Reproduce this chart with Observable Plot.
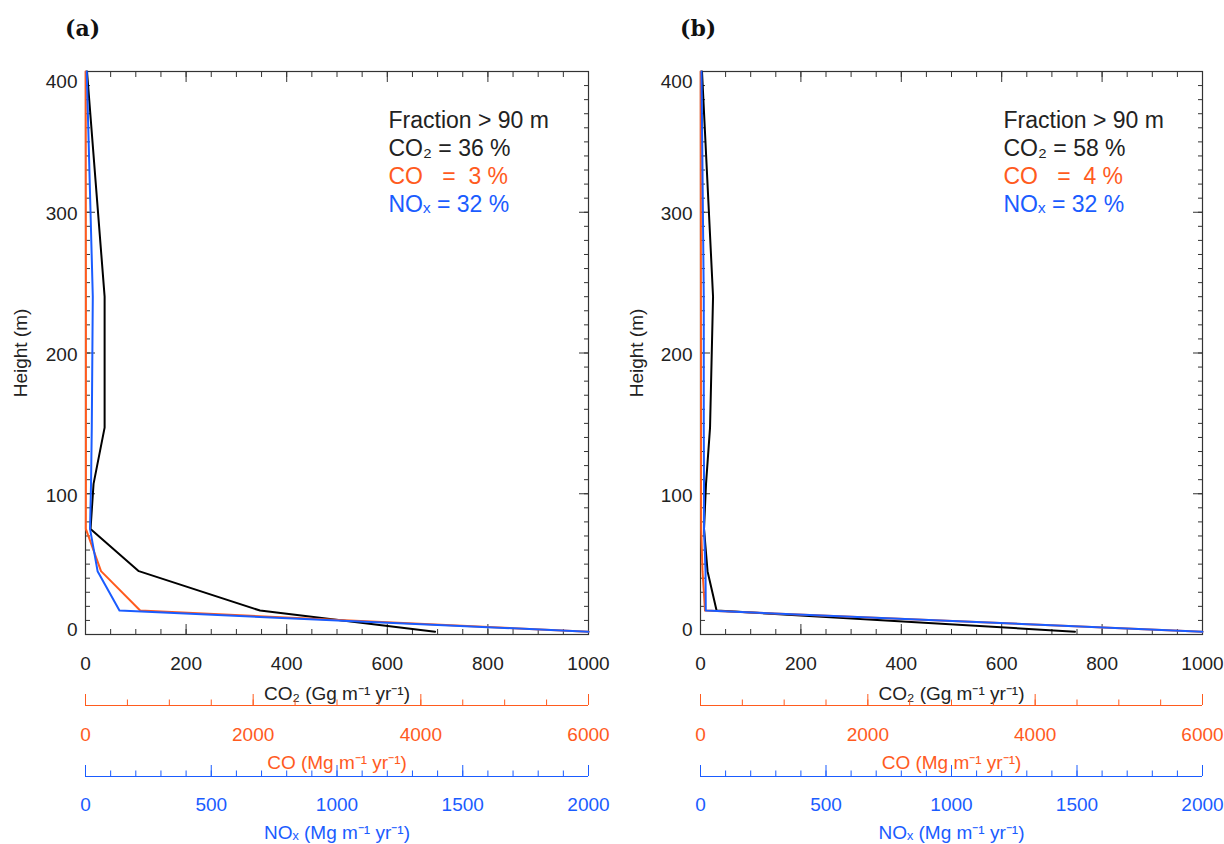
<!DOCTYPE html>
<html><head><meta charset="utf-8">
<script src="https://cdn.jsdelivr.net/npm/d3@7"></script>
<script src="https://cdn.jsdelivr.net/npm/@observablehq/plot@0.6"></script>
<style>
html,body{margin:0;padding:0;background:#fff;}
#page{position:relative;width:1224px;height:844px;overflow:hidden;font-family:"Liberation Sans",Arial,sans-serif;}
.ptitle{position:absolute;top:17px;font-family:"DejaVu Serif",serif;font-weight:bold;font-size:22px;line-height:1;color:#111;}
.panel{position:absolute;top:50px;width:612px;height:794px;}
</style></head><body><div id="page"></div>
<script>
// Heights of profile vertices (m)
const heights = [2, 17, 45, 75, 107, 147, 240, 400];
// Panel (a)
const co2A = [695, 347, 106, 10, 16, 38, 38, 3];        // Gg m-1 yr-1
const coA  = [6000, 652, 185, 4, 5, 5, 5, 2];           // Mg m-1 yr-1
const noxA = [2000, 135, 48, 18, 22, 25, 29, 5];        // Mg m-1 yr-1
// Panel (b)
const co2B = [746, 32, 14, 7, 11, 19, 25, 3];
const coB  = [6000, 54, 24, 8, 6, 6, 5, 2];
const noxB = [2000, 21, 20, 14, 14, 13, 13, 4];
// Annotation values
const fracA = {co2: "36", co: "3", nox: "32"};
const fracB = {co2: "58", co: "4", nox: "32"};
// Axis ranges and ticks
const CO2_MAX = 1000, CO_MAX = 6000, NOX_MAX = 2000, H_MAX = 400;
const co2Ticks = [0, 200, 400, 600, 800, 1000];
const co2Minor = d3.range(0, 1001, 50);
const coTicks = [0, 2000, 4000, 6000];
const coMinor = d3.range(0, 6001, 500);
const noxTicks = [0, 500, 1000, 1500, 2000];
const noxMinor = d3.range(0, 2001, 100);
const hTicksMid = [100, 200, 300];
const hMinor = d3.range(0, 401, 10);

const ORANGE = "#ff5b1e", BLUE = "#1a5cff", INK = "#222", AXC = "#333";
const fmt = d3.format("d");
const coToX = v => v * CO2_MAX / CO_MAX;
const noxToX = v => v * CO2_MAX / NOX_MAX;

function panel(co2, co, nox, frac, ml, mr, ylabDx) {
  const rows = heights.map((h, i) => ({h, co2: co2[i], co: coToX(co[i]), nox: noxToX(nox[i])}));
  const annot = [
    {t: "Fraction > 90 m", c: INK},
    {t: `CO\u2082 = ${frac.co2} %`, c: INK},
    {t: `CO\u00a0\u00a0\u00a0=\u00a0\u00a0${frac.co} %`, c: ORANGE},
    {t: `NO\u2093 = ${frac.nox} %`, c: BLUE}
  ];
  const dOr = 71, dBl = 142;
  const lbl = (txt, dy, fill) => Plot.text([txt], {frameAnchor: "bottom", dy, fill, fontSize: 19, lineAnchor: "middle", textAnchor: "middle"});
  return Plot.plot({
    width: 612, height: 794,
    marginTop: 21, marginBottom: 210, marginLeft: ml, marginRight: mr,
    style: {fontFamily: "'Liberation Sans', Arial, sans-serif", fontSize: "19px", color: INK, background: "white", overflow: "visible"},
    x: {domain: [0, CO2_MAX], label: null},
    y: {domain: [0, H_MAX], label: null},
    marks: [
      Plot.frame({stroke: AXC, strokeWidth: 1.2}),
      // inward ticks, all sides
      Plot.axisX({anchor: "bottom", ticks: co2Ticks, tickSize: -10, fill: "none", stroke: AXC}),
      Plot.axisX({anchor: "bottom", ticks: co2Minor, tickSize: -5, fill: "none", stroke: AXC}),
      Plot.axisX({anchor: "top", ticks: co2Ticks, tickSize: -10, fill: "none", stroke: AXC}),
      Plot.axisX({anchor: "top", ticks: co2Minor, tickSize: -5, fill: "none", stroke: AXC}),
      Plot.axisY({anchor: "left", ticks: [0, ...hTicksMid, 400], tickSize: -10, fill: "none", stroke: AXC}),
      Plot.axisY({anchor: "left", ticks: hMinor, tickSize: -5, fill: "none", stroke: AXC}),
      Plot.axisY({anchor: "right", ticks: [0, ...hTicksMid, 400], tickSize: -10, fill: "none", stroke: AXC}),
      Plot.axisY({anchor: "right", ticks: hMinor, tickSize: -5, fill: "none", stroke: AXC}),
      // profiles (drawn over the frame)
      Plot.line(rows, {x: "co2", y: "h", stroke: "black", strokeWidth: 2}),
      Plot.line(rows, {x: "co", y: "h", stroke: ORANGE, strokeWidth: 2}),
      Plot.line(rows, {x: "nox", y: "h", stroke: BLUE, strokeWidth: 2}),
      // tick labels
      Plot.axisX({anchor: "bottom", ticks: co2Ticks, tickSize: 0, tickPadding: 22, tickFormat: fmt, fill: INK}),
      Plot.axisY({anchor: "left", ticks: hTicksMid, tickSize: 0, tickPadding: 8, tickFormat: fmt, fill: INK, dy: 2}),
      Plot.axisY({anchor: "left", ticks: [400], tickSize: 0, tickPadding: 8, tickFormat: fmt, fill: INK, dy: 10}),
      Plot.axisY({anchor: "left", ticks: [0], tickSize: 0, tickPadding: 8, tickFormat: fmt, fill: INK, dy: -5}),
      Plot.text(["Height (m)"], {frameAnchor: "left", dx: ylabDx, rotate: -90, fill: INK, fontSize: 19, textAnchor: "middle", lineAnchor: "middle"}),
      lbl("CO\u2082 (Gg m\u207b\u00b9 yr\u207b\u00b9)", 59, INK),
      // CO secondary axis
      Plot.ruleY([0], {stroke: ORANGE, dy: dOr}),
      Plot.axisX({anchor: "bottom", ticks: coTicks.map(coToX), tickSize: -11, fill: "none", stroke: ORANGE, dy: dOr}),
      Plot.axisX({anchor: "bottom", ticks: coMinor.map(coToX), tickSize: -5.5, fill: "none", stroke: ORANGE, dy: dOr}),
      Plot.axisX({anchor: "bottom", ticks: coTicks.map(coToX), tickSize: 0, tickPadding: 22, fill: ORANGE, dy: dOr,
                  tickFormat: d => fmt(Math.round(d * CO_MAX / CO2_MAX))}),
      lbl("CO (Mg m\u207b\u00b9 yr\u207b\u00b9)", 128, ORANGE),
      // NOx secondary axis
      Plot.ruleY([0], {stroke: BLUE, dy: dBl}),
      Plot.axisX({anchor: "bottom", ticks: noxTicks.map(noxToX), tickSize: -11, fill: "none", stroke: BLUE, dy: dBl}),
      Plot.axisX({anchor: "bottom", ticks: noxMinor.map(noxToX), tickSize: -5.5, fill: "none", stroke: BLUE, dy: dBl}),
      Plot.axisX({anchor: "bottom", ticks: noxTicks.map(noxToX), tickSize: 0, tickPadding: 21, fill: BLUE, dy: dBl,
                  tickFormat: d => fmt(Math.round(d * NOX_MAX / CO2_MAX))}),
      lbl("NO\u2093 (Mg m\u207b\u00b9 yr\u207b\u00b9)", 198, BLUE),
      // annotation
      ...annot.map((a, i) => Plot.text([a.t], {frameAnchor: "top-left", dx: 303, dy: 49 + i * 28, textAnchor: "start", lineAnchor: "middle", fill: a.c, fontSize: 23}))
    ]
  });
}

const page = document.getElementById("page");
function addPanel(left, title, titleLeft, chart) {
  const t = document.createElement("div");
  t.className = "ptitle"; t.style.left = titleLeft + "px"; t.textContent = title;
  page.appendChild(t);
  const d = document.createElement("div");
  d.className = "panel"; d.style.left = left + "px";
  d.appendChild(chart);
  page.appendChild(d);
}
addPanel(0, "(a)", 65, panel(co2A, coA, noxA, fracA, 85, 24, -65));
addPanel(612, "(b)", 680, panel(co2B, coB, noxB, fracB, 88, 22, -64));
</script>
</body></html>
